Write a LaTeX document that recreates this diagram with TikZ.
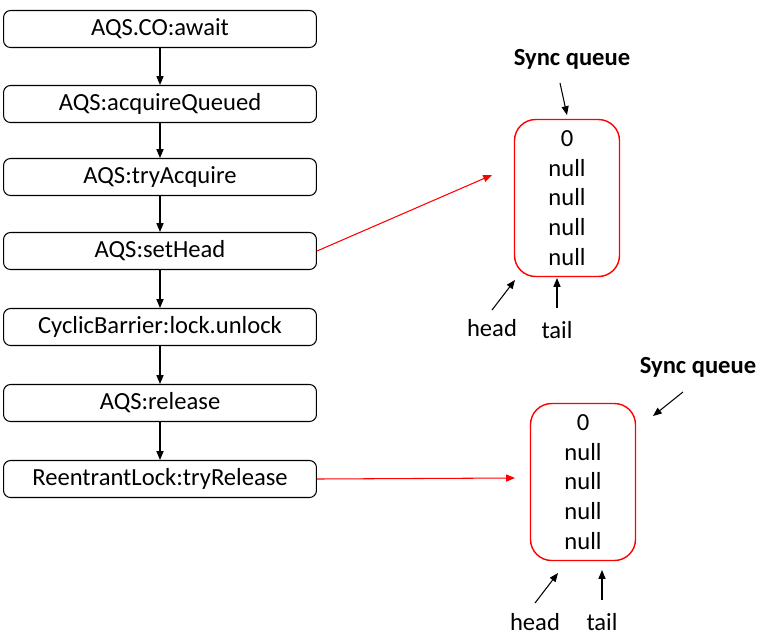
\documentclass[tikz,border=0pt]{standalone}
\usepackage{fontspec}
\setmainfont{Carlito}
\usetikzlibrary{arrows.meta,positioning}
\tikzset{
  callbox/.style={draw,rounded corners=4pt,line width=0.6pt,minimum width=6.26cm,minimum height=0.74cm,inner sep=0pt},
  queuebox/.style={draw=red,rounded corners=12pt,line width=0.8pt,minimum width=2.1cm,minimum height=3.14cm,align=center,inner sep=0pt,font=\fontsize{14}{17}\selectfont},
  tip/.style={-{Triangle[length=5pt,width=4pt]},line width=0.6pt},
  qtitle/.style={font=\fontsize{14}{14}\selectfont\bfseries},
}
\begin{document}
\begin{tikzpicture}[x=0.02cm,y=-0.02cm,font=\fontsize{14}{17}\selectfont]
\useasboundingbox (0,0) rectangle (761,637);
%
% call chain
\foreach \n/\y/\t in {await/29/AQS.CO:await,acq/104/AQS:acquireQueued,try/177/AQS:tryAcquire,
  head/251/AQS:setHead,unlock/327/CyclicBarrier:lock.unlock,rel/403/AQS:release,tryrel/479/ReentrantLock:tryRelease}
\node[callbox] (\n) at (160,\y) {\t};
\foreach \a/\b in {await/acq,acq/try,try/head,head/unlock,unlock/rel,rel/tryrel}
\draw[tip] (\a) -- (\b);
%
% first sync queue
\node[queuebox] (qa) at (567,198) {0\\null\\null\\null\\null};
\node[qtitle] (sqa) at (572,59) {Sync queue};
\node (hda) at (492,328) {head};
\node (tla) at (557,330) {tail};
\coordinate (sqa1) at (560,83);
\coordinate (sqa2) at (567,115);
\coordinate (hda1) at (492,310);
\coordinate (hda2) at (515,280);
\coordinate (tla1) at (557,308);
\coordinate (tla2) at (557,278);
\coordinate (ra) at (492,175);
\draw[tip] (sqa1) -- (sqa2);
\draw[tip] (hda1) -- (hda2);
\draw[tip] (tla1) -- (tla2);
\draw[tip,red] (head.east) -- (ra);
%
% second sync queue
\node[queuebox] (qb) at (583,482) {0\\null\\null\\null\\null};
\node[qtitle] (sqb) at (698,367) {Sync queue};
\node (hdb) at (535,622) {head};
\node (tlb) at (602,622) {tail};
\coordinate (sqb1) at (683,392);
\coordinate (sqb2) at (653,416);
\coordinate (hdb1) at (535,603);
\coordinate (hdb2) at (558,573);
\coordinate (tlb1) at (602,600);
\coordinate (tlb2) at (602,570);
\coordinate (rb) at (515,478);
\draw[tip] (sqb1) -- (sqb2);
\draw[tip] (hdb1) -- (hdb2);
\draw[tip] (tlb1) -- (tlb2);
\draw[tip,red] (tryrel.east) -- (rb);
%
\end{tikzpicture}
\end{document}
